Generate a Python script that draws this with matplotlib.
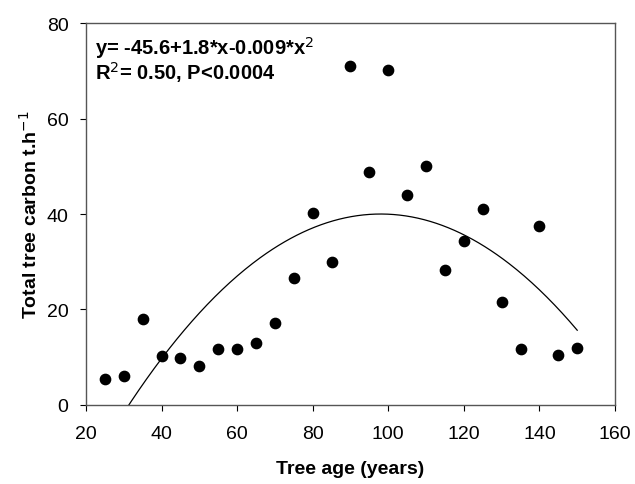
import numpy as np
import matplotlib.pyplot as plt

plt.rcParams['font.family'] = ['Liberation Sans', 'DejaVu Sans']

# Tree age (years) and total tree carbon (t/ha)
age = [25, 30, 35, 40, 45, 50, 55, 60, 65, 70, 75, 80, 85,
       90, 95, 100, 105, 110, 115, 120, 125, 130, 135, 140, 145, 150]
carbon = [5.5, 6.0, 18.0, 10.2, 9.8, 8.2, 11.8, 11.8, 13.0, 17.2, 26.5, 40.2, 30.0,
          71.0, 48.8, 70.2, 44.0, 50.0, 28.2, 34.3, 41.0, 21.5, 11.8, 37.5, 10.5, 12.0]

# quadratic fit as drawn (highest power first)
fit_coef = [-0.009, 1.764, -46.44]

xticks = [20, 40, 60, 80, 100, 120, 140, 160]
yticks = [0, 20, 40, 60, 80]

fig = plt.figure(figsize=(6.35, 4.85), dpi=100)
ax = fig.add_axes([0.1354, 0.1629, 0.8331, 0.7876])

xs = np.linspace(30, 150, 300)
ax.plot(xs, np.polyval(fit_coef, xs), color='black', lw=0.9)
ax.scatter(age, carbon, s=55, color='black', zorder=3)

ax.set_xlim(20, 160)
ax.set_ylim(0, 80)
ax.set_xticks(xticks)
ax.set_yticks(yticks)
ax.tick_params(direction='out', length=4.5, labelsize=14, top=False, right=False)
ax.tick_params(axis='x', pad=10)
ax.tick_params(axis='y', pad=8)
for sp in ax.spines.values():
    sp.set_color('#555555')
    sp.set_linewidth(1.0)

ax.set_xlabel('Tree age (years)', fontsize=14, fontweight='bold', labelpad=13)
ax.set_ylabel('Total tree carbon t.h$^{-1}$', fontsize=14, fontweight='bold', labelpad=4)

ax.text(0.017, 0.919, 'y= -45.6+1.8*x-0.009*x$^2$', transform=ax.transAxes,
        fontsize=14.5, fontweight='bold', va='baseline')
ax.text(0.017, 0.853, 'R$^2$= 0.50, P<0.0004', transform=ax.transAxes,
        fontsize=14.5, fontweight='bold', va='baseline')

fig.savefig('out.png', dpi=100)
